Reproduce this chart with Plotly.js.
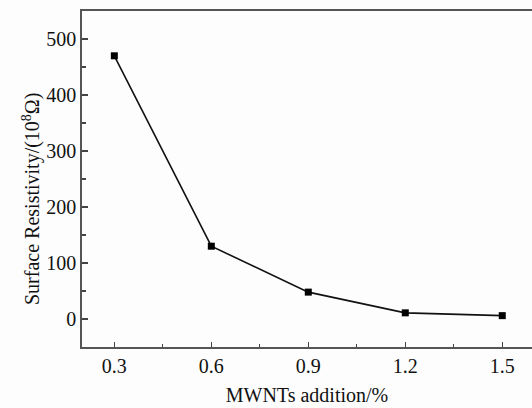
<!DOCTYPE html>
<html>
<head>
<meta charset="utf-8">
<script src="https://cdn.plot.ly/plotly-3.0.1.min.js"></script>
<style>html,body{margin:0;padding:0;background:#fdfdfd;}#chart{width:532px;height:408px;}</style>
</head>
<body>
<div id="chart"></div>
<script>
const additions = [0.3, 0.6, 0.9, 1.2, 1.5];
const resistivity = [470, 130, 48, 11, 6];
const xTicks = [0.3, 0.6, 0.9, 1.2, 1.5];
const yTicks = [0, 100, 200, 300, 400, 500];
const xTitle = 'MWNTs addition/%';
const yTitle = 'Surface Resistivity/(10<sup>8</sup>Ω)';

const FAM = '"Liberation Serif", "Times New Roman", serif';
function f(size) { return {family: FAM, size: size, color: '#111'}; }

const W = 532, H = 408, ML = 82, MR = 0, MT = 11, MB = 61;
const plotW = W - ML - MR, plotH = H - MT - MB;

Plotly.newPlot('chart', [{
  x: additions,
  y: resistivity,
  type: 'scatter',
  mode: 'lines+markers',
  line: {color: '#111', width: 1.6},
  marker: {symbol: 'square', size: 7, color: '#000'},
  showlegend: false
}], {
  width: W, height: H,
  margin: {l: ML, r: MR, t: MT, b: MB},
  paper_bgcolor: '#fdfdfd',
  plot_bgcolor: '#fdfdfd',
  font: f(20),
  xaxis: {
    range: [0.2, 1.592],
    tickvals: xTicks,
    ticktext: xTicks.map(v => v.toFixed(1)),
    ticks: 'inside', ticklen: 5, tickwidth: 1.3, tickcolor: '#444',
    minor: {ticks: 'inside', tickvals: [0.45, 0.75, 1.05, 1.35], ticklen: 3, tickwidth: 1.2, tickcolor: '#444'},
    showline: true, linecolor: '#555', linewidth: 1.8, mirror: true,
    showgrid: false, zeroline: false,
    title: {text: xTitle, font: f(20), standoff: 12},
    tickfont: f(20)
  },
  yaxis: {
    range: [-50, 550],
    tickvals: yTicks,
    ticks: 'inside', ticklen: 6, tickwidth: 1.3, tickcolor: '#444',
    minor: {ticks: 'inside', dtick: 50, ticklen: 4, tickwidth: 1.2, tickcolor: '#444'},
    showline: true, linecolor: '#555', linewidth: 1.8, mirror: false,
    showgrid: false, zeroline: false,
    tickfont: f(20)
  },
  annotations: [{
    text: yTitle,
    textangle: -90,
    xref: 'paper', yref: 'paper',
    x: (31 - ML) / plotW, y: (H - MB - 199) / plotH,
    xanchor: 'center', yanchor: 'middle',
    showarrow: false,
    font: f(20)
  }]
}, {displayModeBar: false, staticPlot: true});
</script>
</body>
</html>
